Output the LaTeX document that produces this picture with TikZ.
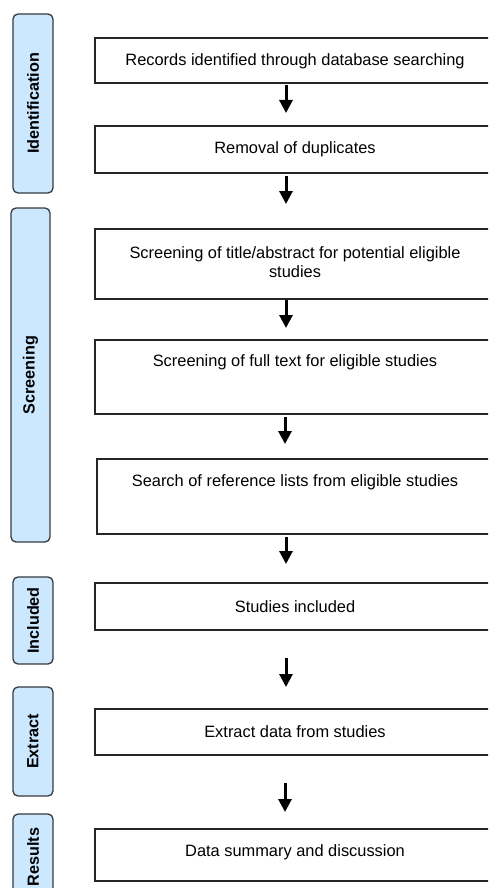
\documentclass[tikz,border=0pt]{standalone}
\usepackage{fontspec}
\setmainfont{Liberation Sans}
\usetikzlibrary{arrows.meta}
\definecolor{labfill}{HTML}{CCE8FF}
\definecolor{labdraw}{HTML}{36393D}
\tikzset{
  box/.style={draw=black!85, line width=1.3pt, minimum width=400pt, inner sep=0pt},
  txt/.style={font=\fontsize{16.4}{19}\selectfont, align=center, inner sep=0pt},
  lab/.style={draw=labdraw, fill=labfill, line width=1.3pt, rounded corners=5pt,
    rotate=90, font=\fontsize{16.2}{19}\selectfont\bfseries, inner sep=0pt},
  flow/.style={line width=3pt, -{Triangle[length=13pt,width=13pt]}}
}
\begin{document}
\begin{tikzpicture}[x=1pt,y=-1pt]
\useasboundingbox (0,0) rectangle (488,888);
\clip (0,0) rectangle (488,888);
% phase labels
\node[lab, minimum width=179pt, minimum height=40pt] (lid) at (33,103.5) {Identification};
\node[lab, minimum width=334pt, minimum height=39pt] (lsc) at (30.5,375) {Screening};
\node[lab, minimum width=87pt, minimum height=40pt] (lin) at (33,620.5) {Included};
\node[lab, minimum width=109pt, minimum height=40pt] (lex) at (33,741.5) {Extract};
\node[lab, minimum width=86pt, minimum height=40pt] (lre) at (33,857) {Results};
% boxes
\node[box, minimum height=45pt] (b1) at (295,60.5) {};
\node[txt] (t1) at (295,61) {Records identified through database searching};
\node[box, minimum height=47pt] (b2) at (295,149.5) {};
\node[txt] (t2) at (295,149.5) {Removal of duplicates};
\node[box, minimum height=70pt] (b3) at (295,264) {};
\node[txt] (t3) at (295,262) {Screening of title/abstract for potential eligible\\studies};
\node[box, minimum height=74pt] (b4) at (295,377) {};
\node[txt] (t4) at (295,362.5) {Screening of full text for eligible studies};
\node[box, minimum height=75pt, minimum width=398pt] (b5) at (296,496.5) {};
\node[txt] (t5) at (295,482.5) {Search of reference lists from eligible studies};
\node[box, minimum height=47pt] (b6) at (295,606.5) {};
\node[txt] (t6) at (295,606.5) {Studies included};
\node[box, minimum height=46pt] (b7) at (295,732) {};
\node[txt] (t7) at (295,732) {Extract data from studies};
\node[box, minimum height=52pt] (b8) at (295,855) {};
\node[txt] (t8) at (295,852.5) {Data summary and discussion};
% arrow end points
\coordinate (a1s) at (286,85);  \coordinate (a1e) at (286,113);
\coordinate (a2s) at (286,176); \coordinate (a2e) at (286,204);
\coordinate (a3s) at (286,300); \coordinate (a3e) at (286,328);
\coordinate (a4s) at (285,417); \coordinate (a4e) at (285,444);
\coordinate (a5s) at (286,537); \coordinate (a5e) at (286,564);
\coordinate (a6s) at (286,658); \coordinate (a6e) at (286,687);
\coordinate (a7s) at (285,783); \coordinate (a7e) at (285,812);
\foreach \i in {1,...,7} {\draw[flow] (a\i s) -- (a\i e);}
\end{tikzpicture}
\end{document}
